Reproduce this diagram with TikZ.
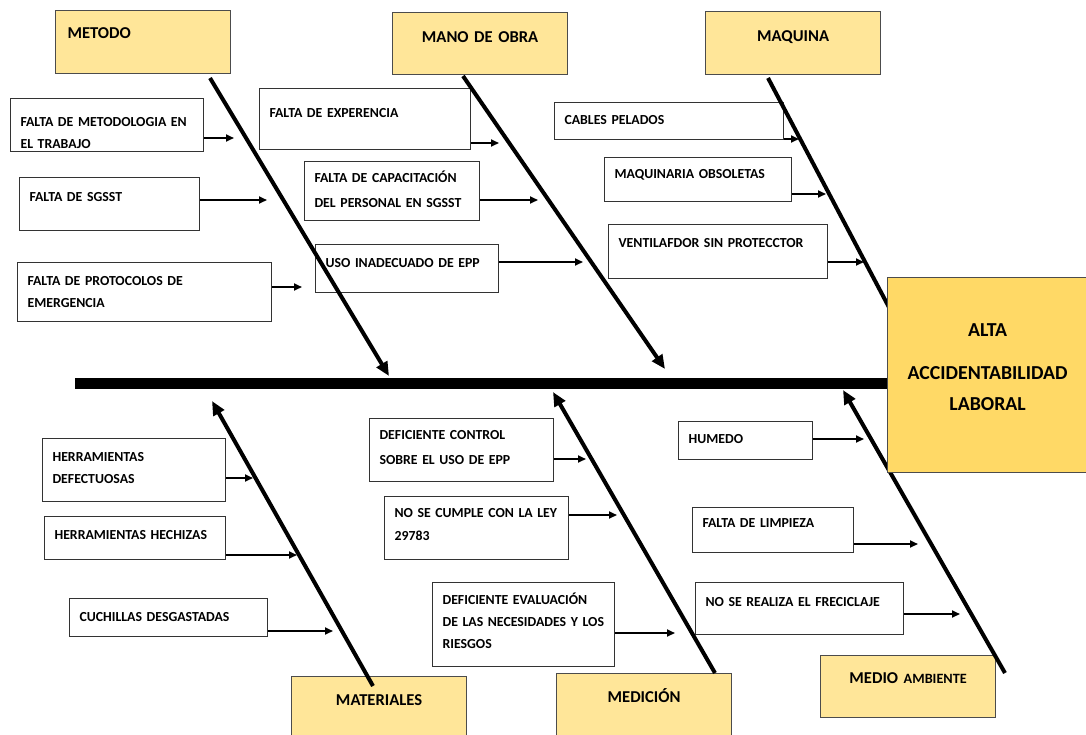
\documentclass[tikz,border=0pt]{standalone}
\usepackage{fontspec}
\setmainfont{Carlito}
\usetikzlibrary{arrows.meta}
\definecolor{catfill}{HTML}{FFE699}
\definecolor{headfill}{HTML}{FFD966}
\begin{document}
\begin{tikzpicture}[x=1pt,y=-1pt,
	cause/.style={draw=black!80, line width=1.1pt, fill=white, anchor=north west, align=left, inner xsep=10pt, inner ysep=0pt, font=\fontsize{13.8}{22}\selectfont\bfseries},
	category/.style={draw=black!70, line width=1.2pt, fill=catfill, anchor=north west, align=center, inner xsep=0pt, inner ysep=0pt, text width=175pt, font=\fontsize{16.6}{20}\selectfont\bfseries},
	effect/.style={draw=black!70, line width=1.2pt, fill=headfill, anchor=north west, align=center, inner sep=0pt, text width=200pt, font=\fontsize{19.8}{31}\selectfont\bfseries},
	spine/.style={line width=4pt, -{Triangle[length=14pt,width=12pt]}},
	branch/.style={line width=1.8pt, -{Triangle[length=8pt,width=7pt]}},
	backbone/.style={line width=11pt}]
	\useasboundingbox (0,0) rectangle (1086,734);
	% categories
	\node (cm) at (55,10)	[category, align=left, inner xsep=12pt, text width=151pt, text height=28pt, text depth=35pt]	{METODO};
	\node (co) at (392,12)	[category, text height=30pt, text depth=32pt]	{MANO DE OBRA};
	\node (cq) at (705,11)	[category, text height=30pt, text depth=33pt]	{MAQUINA};
	\node (ct) at (291,676)	[category, text height=29pt, text depth=36pt]	{MATERIALES};
	\node (cd) at (556,673)	[category, text height=29pt, text depth=39pt]	{MEDICIÓN};
	\node (ca) at (820,655)	[category, text height=28pt, text depth=34pt]	{MEDIO {\fontsize{14.2}{20}\selectfont AMBIENTE}};
	% causes
	\node (m1) at (10,98)	[cause, text width=173pt, text height=28pt, text depth=25pt]	{FALTA DE METODOLOGIA EN\\EL TRABAJO};
	\node (m2) at (19,177)	[cause, text width=160pt, text height=24pt, text depth=29pt]	{FALTA DE SGSST};
	\node (m3) at (17,262)	[cause, text width=234pt, text height=23pt, text depth=36pt]	{FALTA DE PROTOCOLOS DE\\EMERGENCIA};
	\node (o1) at (259,88)	[cause, text width=191pt, text height=29pt, text depth=32pt]	{FALTA DE EXPERENCIA};
	\node (o2) at (304,161)	[cause, text width=155pt, text height=21pt, text depth=38pt]	{FALTA DE CAPACITACIÓN\\[3pt]DEL PERSONAL EN SGSST};
	\node (o3) at (315,244)	[cause, text width=163pt, text height=23pt, text depth=25pt]	{USO INADECUADO DE EPP};
	\node (q1) at (554,102)	[cause, text width=209pt, text height=22pt, text depth=15pt]	{CABLES PELADOS};
	\node (q2) at (604,157)	[cause, text width=167pt, text height=21pt, text depth=23pt]	{MAQUINARIA OBSOLETAS};
	\node (q3) at (608,224)	[cause, text width=199pt, text height=23pt, text depth=31pt]	{VENTILAFDOR SIN PROTECCTOR};
	\node (t1) at (42,438)	[cause, text width=163pt, text height=23pt, text depth=40pt]	{HERRAMIENTAS\\DEFECTUOSAS};
	\node (t2) at (44,516)	[cause, text width=161pt, text height=23pt, text depth=20pt]	{HERRAMIENTAS HECHIZAS};
	\node (t3) at (69,598)	[cause, text width=178pt, text height=23pt, text depth=15pt]	{CUCHILLAS DESGASTADAS};
	\node (d1) at (369,418)	[cause, text width=164pt, text height=21pt, text depth=42pt]	{DEFICIENTE CONTROL\\[3pt]SOBRE EL USO DE EPP};
	\node (d2) at (384,496)	[cause, text width=164pt, text height=21pt, text depth=42pt]	{NO SE CUMPLE CON LA LEY\\[1pt]29783};
	\node (d3) at (432,582)	[cause, text width=162pt, text height=22pt, text depth=62pt]	{DEFICIENTE EVALUACIÓN\\DE LAS NECESIDADES Y LOS\\RIESGOS};
	\node (a1) at (678,421)	[cause, text width=114pt, text height=22pt, text depth=16pt]	{HUMEDO};
	\node (a2) at (692,507)	[cause, text width=141pt, text height=20pt, text depth=25pt]	{FALTA DE LIMPIEZA};
	\node (a3) at (695,582)	[cause, text width=188pt, text height=24pt, text depth=28pt]	{NO SE REALIZA EL FRECICLAJE};
	% spines
	\coordinate (sm0) at (210,78);	\coordinate (sm1) at (389,376);
	\coordinate (so0) at (463,76);	\coordinate (so1) at (665,369);
	\coordinate (sq0) at (768,78);	\coordinate (sq1) at (892,313);
	\coordinate (st0) at (373,686);	\coordinate (st1) at (212,401);
	\coordinate (sd0) at (715,673);	\coordinate (sd1) at (553,392);
	\coordinate (sa0) at (1005,673);	\coordinate (sa1) at (843,390);
	\draw[spine] (sm0) -- (sm1);
	\draw[spine] (so0) -- (so1);
	\draw[line width=4pt] (sq0) -- (sq1);
	\draw[spine] (st0) -- (st1);
	\draw[spine] (sd0) -- (sd1);
	\draw[spine] (sa0) -- (sa1);
	% arrow tips of the causes
	\coordinate (m1e) at (234,138);	\coordinate (m2e) at (267,200);	\coordinate (m3e) at (302,287);
	\coordinate (o1e) at (499,143);	\coordinate (o2e) at (538,200);	\coordinate (o3e) at (583,262);
	\coordinate (q1e) at (799,139);	\coordinate (q2e) at (826,194);	\coordinate (q3e) at (864,262);
	\coordinate (t1e) at (253,478);	\coordinate (t2e) at (297,555);	\coordinate (t3e) at (333,631);
	\coordinate (d1e) at (586,459);	\coordinate (d2e) at (617,515);	\coordinate (d3e) at (675,633);
	\coordinate (a1e) at (864,439);	\coordinate (a2e) at (918,544);	\coordinate (a3e) at (960,614);
	\foreach \c in {m1,m2,m3,o1,o2,o3,q1,q2,q3,t1,t2,t3,d1,d2,d3,a1,a2,a3}
		\draw[branch] (\c.east |- \c e) -- (\c e);
	% effect
	\node (head) at (887,277)	[effect, text height=59pt, text depth=136pt]	{ALTA\\[12pt]ACCIDENTABILIDAD\\LABORAL};
	\coordinate (b0) at (75,383);
	\draw[backbone] (b0) -- (b0 -| head.west);
\end{tikzpicture}
\end{document}
